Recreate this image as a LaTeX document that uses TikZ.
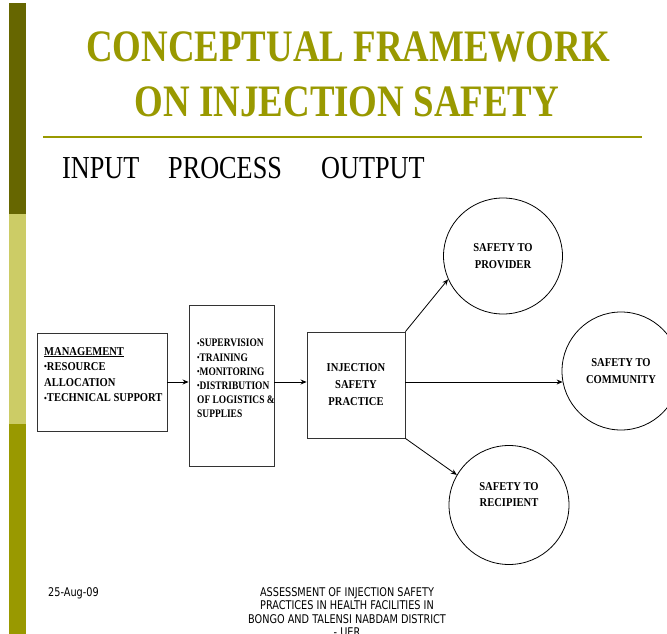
\documentclass[tikz,border=0pt]{standalone}
\usepackage{fontspec}
\usepackage{graphicx}
\setmainfont{Liberation Serif}
\newfontfamily\ttlfont[FakeStretch=0.82]{Liberation Serif}
\newfontfamily\boxfont[FakeStretch=0.88]{Liberation Serif}
\newfontfamily\procfont[FakeStretch=0.82]{Liberation Serif}
\newfontfamily\footfont[FakeStretch=0.81]{DejaVu Sans}
\newcommand\bul{\raisebox{0.15ex}{\scalebox{0.75}{•}}}
\usetikzlibrary{shapes.geometric,arrows.meta}
\definecolor{oliveD}{HTML}{666600}
\definecolor{oliveL}{HTML}{CCCC66}
\definecolor{oliveM}{HTML}{999900}
\begin{document}
\begin{tikzpicture}[x=1pt,y=-1pt,
  box/.style={draw=black!80, line width=0.9pt, rectangle, inner sep=0pt},
  bubble/.style={draw=black, line width=0.8pt, ellipse, inner sep=0pt,
    minimum width=119pt, minimum height=116pt,
    font=\boxfont\bfseries\fontsize{12}{16.5}\selectfont, align=center},
  btxt/.style={font=\boxfont\bfseries\fontsize{12}{15.6}\selectfont, align=left, inner sep=0pt},
  ptxt/.style={font=\procfont\bfseries\fontsize{11.5}{14.2}\selectfont, align=left, inner sep=0pt},
  title/.style={font=\ttlfont\bfseries\fontsize{45}{54}\selectfont, text=oliveM, inner sep=0pt},
  head/.style={font=\ttlfont\fontsize{32}{38}\selectfont, inner sep=0pt},
  foot/.style={font=\footfont\fontsize{12}{13.3}\selectfont, inner sep=0pt, align=center},
  conn/.style={line width=0.8pt, -{Stealth[length=6pt,width=5pt]}},
]
\useasboundingbox (0,0) rectangle (667,634);
\clip (0,0) rectangle (667,634);
\fill[white] (0,0) rectangle (667,634);
% side bar
\fill[oliveD] (9,3) rectangle (26,214);
\fill[oliveL] (9,214) rectangle (26,424);
\fill[oliveM] (9,424) rectangle (26,634);
% title
\node[title, anchor=base] (t1) at (348,62) {CONCEPTUAL FRAMEWORK};
\node[title, anchor=base] (t2) at (347,117) {ON INJECTION SAFETY};
\draw[oliveM, line width=2pt] (43,137) -- (642,137);
% headings
\node[head, anchor=base west] (hin) at (62,178) {INPUT};
\node[head, anchor=base west] (hpr) at (168,178) {PROCESS};
\node[head, anchor=base west] (hout) at (321,178) {OUTPUT};
% boxes
\node[box, minimum width=130pt, minimum height=98pt] (mgmt) at (102,382) {};
\node[btxt, anchor=north west] (mgmtT) at (44,347)
  {\underline{MANAGEMENT}\\\bul RESOURCE\\ALLOCATION\\\bul TECHNICAL SUPPORT};
\node[box, minimum width=85pt, minimum height=161pt] (proc) at (231.5,385.5) {};
\node[ptxt, anchor=north west] (procT) at (197,339)
  {\bul SUPERVISION\\\bul TRAINING\\\bul MONITORING\\\bul DISTRIBUTION\\OF LOGISTICS \&\\SUPPLIES};
\node[box, minimum width=98pt, minimum height=106pt,
  font=\boxfont\bfseries\fontsize{12}{17}\selectfont, align=center] (inj) at (356,385)
  {INJECTION\\SAFETY\\PRACTICE};
% outcome bubbles
\node[bubble] (prov) at (503,256) {SAFETY TO\\PROVIDER};
\node[bubble, minimum width=118pt, minimum height=118pt] (comm) at (621,371) {SAFETY TO\\COMMUNITY};
\node[bubble, minimum width=120pt, minimum height=119pt] (rec) at (509,505) {};
\node[bubble, minimum width=0pt, minimum height=0pt, draw=none] (recT) at (509,494.5) {SAFETY TO\\RECIPIENT};
% connectors
\draw[conn] (mgmt.east) -- (proc.west |- mgmt.east);
\draw[conn] (proc.east |- mgmt.east) -- (inj.west |- mgmt.east);
\draw[conn] (inj.east |- mgmt.east) -- ([xshift=1pt]comm.west |- mgmt.east);
\draw[conn] (inj.north east) -- (prov.203);
\draw[conn] (inj.south east) -- (rec.150);
% footer
\node[foot, anchor=base west] (date) at (48,596.5) {25-Aug-09};
\node[foot, anchor=north] (ftr) at (347,587.5)
  {ASSESSMENT OF INJECTION SAFETY\\PRACTICES IN HEALTH FACILITIES IN\\BONGO AND TALENSI NABDAM DISTRICT\\- UER};
\end{tikzpicture}
\end{document}
